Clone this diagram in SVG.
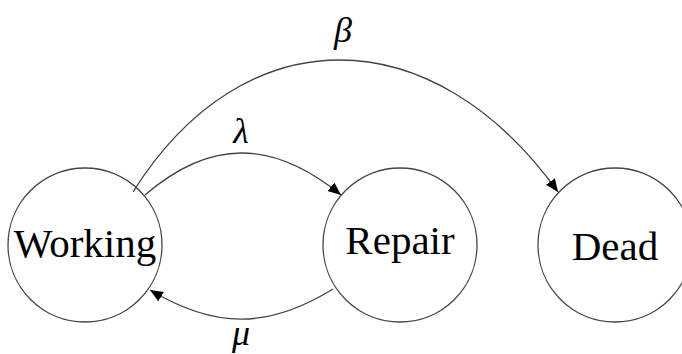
<svg xmlns="http://www.w3.org/2000/svg" width="682" height="354" viewBox="0 0 682 354">
<style>
.node{fill:#fff;stroke:#444;stroke-width:1.3}
.lbl{font-family:"Liberation Serif",serif;font-size:41px;fill:#000;text-anchor:middle}
.greek{font-family:"Liberation Serif",serif;font-style:italic;font-size:36px;fill:#000;text-anchor:middle}
.edge{fill:none;stroke:#444;stroke-width:1.3}
</style>
<defs>
<marker id="arr" markerUnits="userSpaceOnUse" markerWidth="14" markerHeight="12" refX="13" refY="5.5" orient="auto">
<path d="M0,0 L13,5.5 L0,11 z" fill="#000"/>
</marker>
</defs>
<rect width="682" height="354" fill="#fff"/>
<g id="working">
<circle class="node" cx="85" cy="245" r="77"/>
<text class="lbl" x="85" y="257">Working</text>
</g>
<g id="repair">
<circle class="node" cx="400" cy="245" r="77"/>
<text class="lbl" x="400" y="254">Repair</text>
</g>
<g id="dead">
<circle class="node" cx="615" cy="245" r="77"/>
<text class="lbl" x="615" y="260">Dead</text>
</g>
<g id="connectors">
<path class="edge" d="M133,192 C243,16 432,16 558,192" marker-end="url(#arr)"/>
<path class="edge" d="M145,195 C210,139 272,139 341,195" marker-end="url(#arr)"/>
<path class="edge" d="M333,289 C268,329 215,329 150,290" marker-end="url(#arr)"/>
<text class="greek" x="343" y="42">β</text>
<text class="greek" x="241" y="143">λ</text>
<text class="greek" x="241" y="345">μ</text>
</g>
</svg>
